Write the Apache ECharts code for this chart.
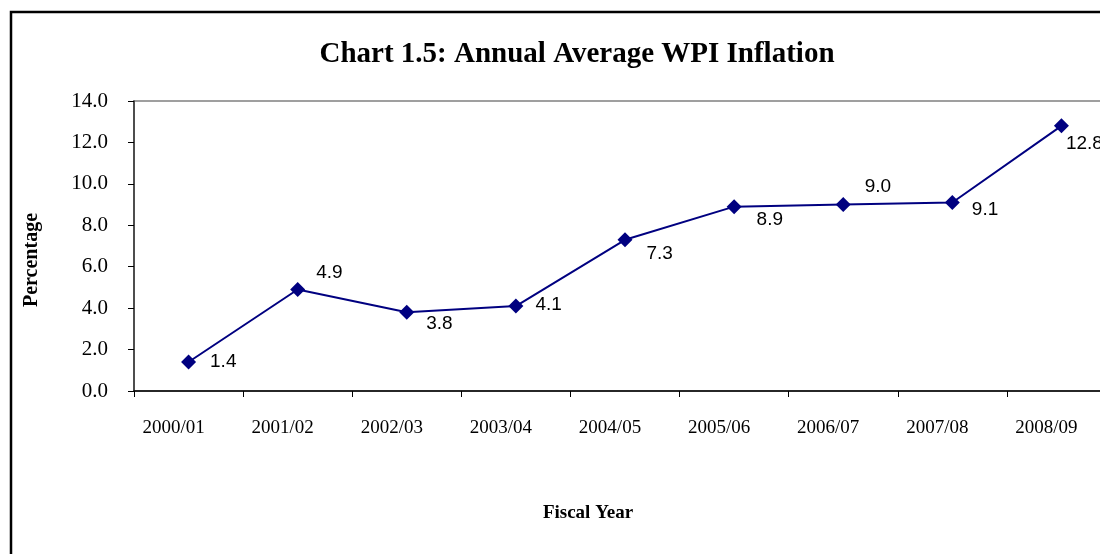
<!DOCTYPE html>
<html>
<head>
<meta charset="utf-8">
<script src="https://cdn.jsdelivr.net/npm/echarts@6/dist/echarts.min.js"></script>
<style>
	html, body { margin: 0; padding: 0; background: #fff; overflow: hidden; }
	/* the plot runs past the right edge of the picture, as in the original */
	#chart { width: 1118px; height: 554px; }
</style>
</head>
<body>
<div id="chart"></div>
<script>
// fiscal years and annual average WPI inflation (%)
const years = ["2000/01", "2001/02", "2002/03", "2003/04", "2004/05", "2005/06", "2006/07", "2007/08", "2008/09"];
const inflation = [1.4, 4.9, 3.8, 4.1, 7.3, 8.9, 9.0, 9.1, 12.8];
const yTicks = [0, 2, 4, 6, 8, 10, 12, 14];

// where each value label sits relative to its point
const labelOffsets = [[4, 0], [1, -17], [2, 11], [2, -1], [4, 14], [5, 13], [4, -18], [2, 7], [-13, 18]];

const chart = echarts.init(document.getElementById("chart"));
const serif = "'Liberation Serif', 'Times New Roman', serif";

const option = {
	animation: false,
	title: {
		text: "Chart 1.5: Annual Average WPI Inflation",
		left: 572,
		textAlign: "center",
		top: 35,
		textStyle: { fontFamily: serif, fontSize: 29, fontWeight: "bold", color: "#000" },
	},
	graphic: [
		{
			type: "rect",
			shape: { x: 11, y: 12, width: 1120, height: 560 },
			style: { fill: "none", stroke: "#000", lineWidth: 2.5 },
			silent: true,
		},
		{
			type: "text",
			x: 588,
			y: 513,
			style: {
				text: "Fiscal Year",
				font: "bold 19px " + serif,
				fill: "#000",
				align: "center",
				verticalAlign: "middle",
			},
		},
		{
			type: "text",
			x: 32,
			y: 260,
			rotation: Math.PI / 2,
			style: {
				text: "Percentage",
				font: "bold 20px " + serif,
				fill: "#000",
				align: "center",
				verticalAlign: "middle",
			},
		},
	],
	grid: {
		left: 134,
		top: 101,
		right: 2,
		bottom: 163,
		show: true,
		borderColor: "#808080",
		borderWidth: 1.5,
	},
	xAxis: {
		type: "category",
		data: years,
		boundaryGap: true,
		axisLine: { lineStyle: { color: "#000", width: 1.5 } },
		axisTick: { show: true, length: 6, lineStyle: { color: "#000" } },
		axisLabel: {
			fontFamily: serif,
			fontSize: 19,
			color: "#000",
			margin: 28,
			padding: [0, 30, 0, 0],
		},
	},
	yAxis: {
		type: "value",
		min: yTicks[0],
		max: yTicks[yTicks.length - 1],
		interval: 2,
		axisLine: { show: true, lineStyle: { color: "#333", width: 1.5 } },
		axisTick: { show: true, length: 6, lineStyle: { color: "#000" } },
		splitLine: { show: false },
		axisLabel: {
			fontFamily: serif,
			fontSize: 21,
			color: "#000",
			margin: 26,
			formatter: (v) => v.toFixed(1),
		},
	},
	series: [
		{
			type: "line",
			data: inflation.map((v, i) => ({
				value: v,
				label: { offset: labelOffsets[i] },
			})),
			symbol: "diamond",
			symbolSize: 15,
			itemStyle: { color: "#000080" },
			lineStyle: { color: "#000080", width: 2 },
			label: {
				show: true,
				position: "right",
				distance: 10,
				fontFamily: "'Liberation Sans', Arial, sans-serif",
				fontSize: 19,
				color: "#000",
				formatter: (p) => p.value.toFixed(1),
			},
		},
	],
};

chart.setOption(option);
</script>
</body>
</html>
